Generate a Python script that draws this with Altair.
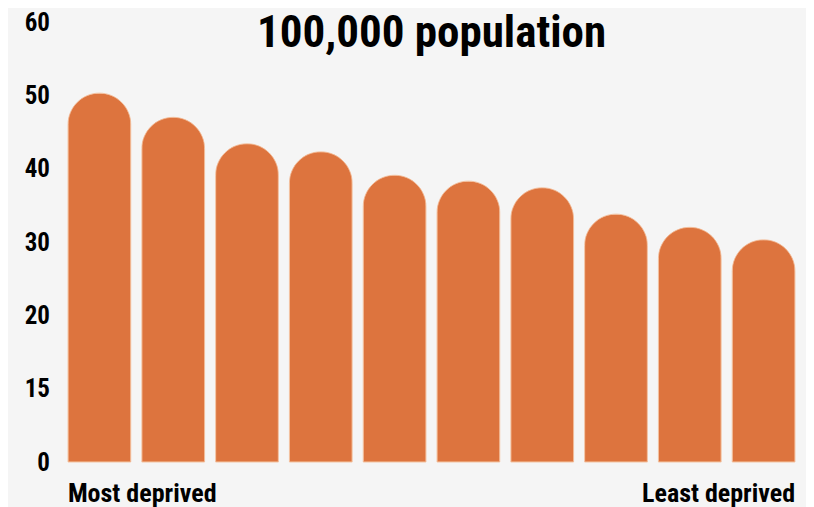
import altair as alt
import pandas as pd

# Data
deciles = ["1", "2", "3", "4", "5", "6", "7", "8", "9", "10"]
rates = [50.3, 47.0, 43.4, 42.3, 39.1, 38.3, 37.4, 33.8, 32.0, 30.3]
y_tick_values = [0, 10, 20, 30, 40, 50, 60]
y_tick_labels = ["0", "15", "20", "30", "40", "50", "60"]
x_end_categories = ["1", "10"]
x_end_labels = ["Most deprived", "Least deprived"]
title_text = "100,000 population"

FONT = "Roboto Condensed"
BAR = "#dd743e"
BG = "#f5f5f5"

df = pd.DataFrame({"decile": deciles, "rate": rates})

y_expr = " : ".join(
    f"datum.value == {v} ? '{l}'" for v, l in zip(y_tick_values, y_tick_labels)
) + " : ''"
x_expr = " : ".join(
    f"datum.value == '{c}' ? '{l}'" for c, l in zip(x_end_categories, x_end_labels)
) + " : ''"
first_test = f"datum.value == '{x_end_categories[0]}'"

chart = (
    alt.Chart(df)
    .mark_bar(
        color=BAR,
        cornerRadiusTopLeft=31.5,
        cornerRadiusTopRight=31.5,
        stroke="#f3b791",
        strokeWidth=0.8,
    )
    .encode(
        x=alt.X(
            "decile:N",
            sort=deciles,
            scale=alt.Scale(paddingInner=0.15, paddingOuter=0.075),
            axis=alt.Axis(
                title=None,
                domain=False,
                ticks=False,
                labelAngle=0,
                labelExpr=x_expr,
                labelFont=FONT,
                labelFontSize=26,
                labelFontWeight="bold",
                labelColor="black",
                labelPadding=39,
                labelBaseline="alphabetic",
                labelAlign={"condition": {"test": first_test, "value": "left"}, "value": "right"},
                labelOffset={"condition": {"test": first_test, "value": -31.5}, "value": 31.5},
            ),
        ),
        y=alt.Y(
            "rate:Q",
            scale=alt.Scale(domain=[0, 60], nice=False),
            axis=alt.Axis(
                title=None,
                domain=False,
                ticks=False,
                grid=False,
                values=y_tick_values,
                labelExpr=y_expr,
                labelFont=FONT,
                labelFontSize=25,
                labelFontWeight="bold",
                labelColor="black",
                labelPadding=13,
            ),
        ),
        tooltip=["decile", "rate"],
    )
    .properties(
        width=738,
        height=440,
        background=BG,
        autosize=alt.AutoSizeParams(type="none"),
        padding={"left": 54.5, "top": 14, "right": 5, "bottom": 45},
        title=alt.TitleParams(
            title_text,
            font=FONT,
            fontSize=45,
            fontWeight="bold",
            color="black",
            anchor="middle",
            offset=-46,
        ),
    )
    .configure_view(stroke=None)
)

chart.save("out.html", embed_options={"renderer": "svg", "actions": False})
